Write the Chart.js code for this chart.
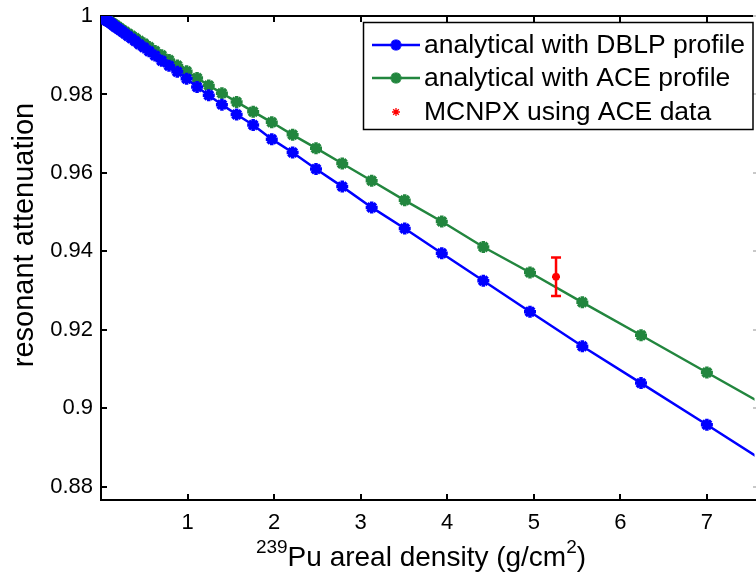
<!DOCTYPE html>
<html><head><meta charset="utf-8">
<script src="https://cdn.jsdelivr.net/npm/chart.js@4.4.1/dist/chart.umd.min.js"></script>
<style>html,body{margin:0;padding:0;background:#fff;overflow:hidden}#wrap{width:756px;height:577px;position:relative;overflow:hidden}canvas{display:block}</style>
</head><body><div id="wrap"><canvas id="c" width="764" height="577"></canvas></div>
<script>
// areal density (g/cm^2) sample points
const densityX = [7.854,7.000,6.239,5.561,4.956,4.417,3.937,3.509,3.127,2.787,2.484,2.214,1.973,1.758,1.567,1.397,1.245,1.110,0.989,0.881,0.786,0.700,0.624,0.556,0.496,0.442,0.394,0.351,0.313,0.279,0.248,0.221,0.197,0.176,0.157,0.140,0.125,0.111,0.099,0.088,0.079,0.070,0.062,0.056,0.050,0.044,0.039,0.035,0.031,0.028,0.025,0.022];
const dblpY = [0.8837,0.8958,0.9064,0.9158,0.9246,0.9325,0.9395,0.9458,0.9512,0.9565,0.9610,0.9652,0.9686,0.9722,0.9749,0.9774,0.9798,0.9819,0.9840,0.9858,0.9873,0.9886,0.9899,0.9910,0.9920,0.9928,0.9936,0.9943,0.9949,0.9955,0.9960,0.9964,0.9968,0.9971,0.9974,0.9977,0.9980,0.9982,0.9984,0.9986,0.9987,0.9988,0.9989,0.9990,0.9991,0.9992,0.9993,0.9994,0.99945,0.9995,0.9996,0.9996];
const aceY = [0.8985,0.9091,0.9186,0.9270,0.9346,0.9411,0.9476,0.9530,0.9580,0.9624,0.9663,0.9697,0.9729,0.9756,0.9781,0.9803,0.9823,0.9842,0.9859,0.9874,0.9888,0.9900,0.9911,0.9921,0.9930,0.9937,0.9944,0.9950,0.9955,0.9960,0.9964,0.9968,0.9972,0.9975,0.9978,0.9980,0.9982,0.9984,0.9986,0.9988,0.9989,0.9990,0.9991,0.9992,0.9993,0.9994,0.99945,0.9995,0.9996,0.99965,0.9997,0.9997];
const mcnpxX = [5.257];
const mcnpxY = [0.9335];
const mcnpxErr = [0.0049];
const xTicks = [1,2,3,4,5,6,7];
const yTicks = [0.88,0.9,0.92,0.94,0.96,0.98,1];
const seriesLabels = ['analytical with DBLP profile','analytical with ACE profile','MCNPX using ACE data'];
const xTitle = ['239','Pu areal density (g/cm','2',')'];
const yTitle = 'resonant attenuation';

const FONT = "'Liberation Sans', Arial, sans-serif";
const BLUE = '#0000ff', GREEN = '#22863e', RED = '#ff0000';

function pts(xs, ys){ return xs.map((x,i)=>({x:x,y:ys[i]})); }

const axesPlugin = {
  id:'axesBox',
  beforeDatasetsDraw(chart){
    const {ctx, chartArea:a, scales:{x,y}} = chart;
    const R = 757;
    ctx.save();
    ctx.strokeStyle='#000'; ctx.lineWidth=2;
    ctx.beginPath();
    ctx.moveTo(a.left, a.top); ctx.lineTo(R, a.top);
    ctx.moveTo(a.left, a.top-1); ctx.lineTo(a.left, a.bottom+1);
    ctx.moveTo(a.left-1, a.bottom); ctx.lineTo(R, a.bottom);
    ctx.stroke();
    ctx.beginPath();
    yTicks.forEach(v=>{ const py=Math.round(y.getPixelForValue(v)); ctx.moveTo(a.left, py); ctx.lineTo(a.left+6, py); });
    xTicks.forEach(v=>{ const px=Math.round(x.getPixelForValue(v)); ctx.moveTo(px, a.bottom); ctx.lineTo(px, a.bottom-6); ctx.moveTo(px, a.top); ctx.lineTo(px, a.top+6); });
    ctx.stroke();
    ctx.strokeStyle='#c8c8c8'; ctx.lineWidth=2;
    ctx.beginPath();
    yTicks.forEach(v=>{ const py=Math.round(y.getPixelForValue(v)); ctx.moveTo(753, py); ctx.lineTo(756, py); });
    ctx.stroke();
    ctx.restore();
  },
  afterDatasetsDraw(chart){
    const {ctx, scales:{x,y}} = chart;
    ctx.save();
    ctx.strokeStyle=RED; ctx.lineWidth=2.5;
    mcnpxX.forEach((xv,i)=>{
      const px=x.getPixelForValue(xv), pt=y.getPixelForValue(mcnpxY[i]+mcnpxErr[i]), pb=y.getPixelForValue(mcnpxY[i]-mcnpxErr[i]);
      ctx.beginPath();
      ctx.moveTo(px,pt); ctx.lineTo(px,pb);
      ctx.moveTo(px-5,pt); ctx.lineTo(px+5,pt);
      ctx.moveTo(px-5,pb); ctx.lineTo(px+5,pb);
      ctx.stroke();
    });
    ctx.restore();
  },
  afterDraw(chart){
    const {ctx} = chart;
    ctx.save();
    // legend
    const bx=363.5, by=22.5, bw=389.5, bh=107;
    ctx.fillStyle='#fff'; ctx.fillRect(bx,by,bw,bh);
    ctx.strokeStyle='#000'; ctx.lineWidth=1.5; ctx.strokeRect(bx,by,bw,bh);
    const rows=[45,78,112];
    const cols=[BLUE,GREEN,RED];
    ctx.font='26.5px '+FONT; ctx.textBaseline='middle'; ctx.textAlign='left';
    rows.forEach((ry,i)=>{
      if(i<2){
        ctx.strokeStyle=cols[i]; ctx.lineWidth=2.5;
        ctx.beginPath(); ctx.moveTo(372,ry); ctx.lineTo(420,ry); ctx.stroke();
        drawStar(ctx,396,ry,5.5,3.5,cols[i]);
      } else {
        drawStar(ctx,396,ry,4,1.3,cols[i]);
      }
      ctx.fillStyle='#000';
      ctx.fillText(chart.data.datasets[i].label, 424, ry+1);
    });
    // x title
    const big='28px '+FONT, small='19px '+FONT;
    ctx.textBaseline='alphabetic';
    ctx.font=small; const w0=ctx.measureText(xTitle[0]).width, w2=ctx.measureText(xTitle[2]).width;
    ctx.font=big; const w1=ctx.measureText(xTitle[1]).width, w3=ctx.measureText(xTitle[3]).width;
    let sx = 421 - (w0+w1+w2+w3)/2; const base=566;
    ctx.fillStyle='#000';
    ctx.font=small; ctx.fillText(xTitle[0], sx, base-13); sx+=w0;
    ctx.font=big; ctx.fillText(xTitle[1], sx, base); sx+=w1;
    ctx.font=small; ctx.fillText(xTitle[2], sx, base-13); sx+=w2;
    ctx.font=big; ctx.fillText(xTitle[3], sx, base);
    // y title
    ctx.translate(33, 235); ctx.rotate(-Math.PI/2);
    ctx.font='29px '+FONT; ctx.textAlign='center'; ctx.textBaseline='alphabetic';
    ctx.fillText(yTitle, 0, 0);
    ctx.restore();
  }
};
function drawStar(ctx,cx,cy,r,lw,col){
  ctx.save(); ctx.strokeStyle=col; ctx.lineWidth=lw; ctx.beginPath();
  for(let k=0;k<4;k++){ const ang=k*Math.PI/4; ctx.moveTo(cx-r*Math.cos(ang),cy-r*Math.sin(ang)); ctx.lineTo(cx+r*Math.cos(ang),cy+r*Math.sin(ang)); }
  ctx.stroke(); ctx.restore();
}

new Chart(document.getElementById('c'), {
  type:'scatter',
  data:{ datasets:[
    {label:seriesLabels[0], data:pts(densityX,dblpY), showLine:true, borderColor:BLUE, backgroundColor:BLUE, borderWidth:2.5,
      pointStyle:'star', pointRadius:6, pointBorderWidth:3.5, pointBorderColor:BLUE, pointBackgroundColor:BLUE, tension:0},
    {label:seriesLabels[1], data:pts(densityX,aceY), showLine:true, borderColor:GREEN, backgroundColor:GREEN, borderWidth:2.5,
      pointStyle:'star', pointRadius:6, pointBorderWidth:3.5, pointBorderColor:GREEN, pointBackgroundColor:GREEN, tension:0},
    {label:seriesLabels[2], data:pts(mcnpxX,mcnpxY), showLine:false, borderColor:RED, backgroundColor:RED,
      pointStyle:'star', pointRadius:4, pointBorderWidth:2.5}
  ]},
  options:{
    responsive:false, animation:false, devicePixelRatio:1,
    layout:{padding:{top:16,right:0,left:0,bottom:0}},
    plugins:{legend:{display:false}, tooltip:{enabled:false}},
    scales:{
      x:{type:'linear', min:0, max:7.55,
        afterBuildTicks:s=>{s.ticks=xTicks.map(v=>({value:v}));},
        afterFit:s=>{s.height=77; s.paddingLeft=0; s.paddingRight=0;},
        grid:{display:false, drawTicks:false}, border:{display:false},
        ticks:{color:'#000', font:{family:FONT, size:22}, padding:10, maxRotation:0, callback:v=>String(v)}},
      y:{type:'linear', min:0.8766, max:1,
        afterBuildTicks:s=>{s.ticks=yTicks.map(v=>({value:v}));},
        afterFit:s=>{s.width=101; s.paddingTop=0; s.paddingBottom=0;},
        grid:{display:false, drawTicks:false}, border:{display:false},
        ticks:{color:'#000', font:{family:FONT, size:22}, padding:8, callback:v=>String(v)}}
    }
  },
  plugins:[axesPlugin]
});
</script></body></html>
